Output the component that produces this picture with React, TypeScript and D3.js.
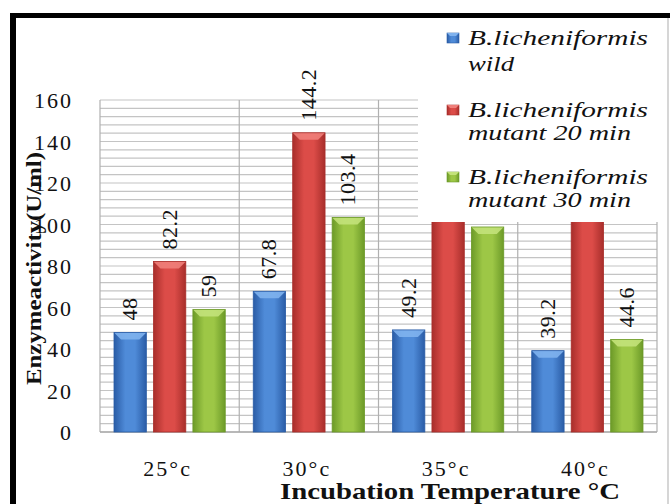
import React, { useEffect, useRef } from "react";
import * as d3 from "d3";

const categories = ["25°c", "30°c", "35°c", "40°c"];
const seriesNames = ["wild", "mutant 20 min", "mutant 30 min"];
const wildValues = [48, 67.8, 49.2, 39.2];
const mutant20Values = [82.2, 144.2, 120, 125];
const mutant30Values = [59, 103.4, 98.8, 44.6];
const yTicks = [0, 20, 40, 60, 80, 100, 120, 140, 160];
const hiddenLabels = [[false, false, false, false], [false, false, true, true], [false, false, true, false]];

const colors = [
  { mid: "#4f8bd8", edge: "#2a5ca6", top: "#7fb2ee" },
  { mid: "#dc4c48", edge: "#a82e2b", top: "#ef7f7a" },
  { mid: "#9dc746", edge: "#6c9a28", top: "#c3e27a" },
];

export default function App() {
  const ref = useRef<SVGSVGElement>(null);
  useEffect(() => {
    const svg = d3.select(ref.current);
    svg.selectAll("*").remove();
    const W = 670, H = 504;
    const left = 100, right = 657, top = 100, bottom = 432;
    const serif = "Times New Roman";

    const y = d3.scaleLinear().domain([0, 160]).range([bottom, top]);
    const x0 = d3.scaleBand<string>().domain(categories).range([left, right]).padding(0);
    const x1 = d3.scaleBand<number>().domain([0, 1, 2]).range([14, x0.bandwidth() - 14]).paddingInner(0.18);

    const defs = svg.append("defs");
    colors.forEach((c, i) => {
      const g = defs.append("linearGradient").attr("id", "g" + i).attr("x1", "0").attr("x2", "1").attr("y1", "0").attr("y2", "0");
      g.append("stop").attr("offset", "0").attr("stop-color", c.edge);
      g.append("stop").attr("offset", "0.35").attr("stop-color", c.mid);
      g.append("stop").attr("offset", "0.65").attr("stop-color", c.mid);
      g.append("stop").attr("offset", "1").attr("stop-color", c.edge);
    });

    svg.append("rect").attr("width", W).attr("height", H).attr("fill", "#fff");

    const grid = svg.append("g");
    d3.range(0, 161, 4).forEach((v) => {
      grid.append("line").attr("x1", left).attr("x2", right).attr("y1", y(v)).attr("y2", y(v))
        .attr("stroke", "#c4c4c4").attr("stroke-width", 1.2);
    });
    [left, ...categories.map((c) => (x0(c) as number) + x0.bandwidth())].forEach((xv) => {
      grid.append("line").attr("x1", xv).attr("x2", xv).attr("y1", top).attr("y2", bottom)
        .attr("stroke", "#b0b0b0").attr("stroke-width", 1.2);
    });
    grid.append("line").attr("x1", left).attr("x2", right).attr("y1", bottom).attr("y2", bottom)
      .attr("stroke", "#aaa").attr("stroke-width", 1.5);

    const all = [wildValues, mutant20Values, mutant30Values];
    const bars = svg.append("g");
    all.forEach((vals, si) => {
      vals.forEach((v, ci) => {
        const bx = (x0(categories[ci]) as number) + (x1(si) as number);
        const bw = x1.bandwidth();
        const by = y(v);
        bars.append("rect").attr("x", bx).attr("y", by).attr("width", bw).attr("height", bottom - by)
          .attr("fill", `url(#g${si})`);
        const b = 7;
        bars.append("polygon")
          .attr("points", [[bx, by], [bx + bw, by], [bx + bw - b, by + b], [bx + b, by + b]].map((p) => p.join(",")).join(" "))
          .attr("fill", colors[si].top).attr("opacity", 0.9);
        bars.append("rect").attr("x", bx).attr("y", by).attr("width", bw).attr("height", bottom - by)
          .attr("fill", "none").attr("stroke", colors[si].edge).attr("stroke-width", 0.8);
        if (!hiddenLabels[si][ci]) {
          const lx = bx + bw / 2;
          const ly = by - 12;
          bars.append("text").attr("transform", `translate(${lx + 7},${ly}) rotate(-90)`)
            .attr("font-family", serif).attr("font-size", 22).attr("letter-spacing", 0.5).attr("fill", "#111")
            .text(String(v));
        }
      });
    });

    svg.append("rect").attr("x", 418).attr("y", 18).attr("width", 248).attr("height", 204).attr("fill", "#fff");
    const legendLines = [
      ["B.licheniformis", "wild"],
      ["B.licheniformis", "mutant 20 min"],
      ["B.licheniformis", "mutant 30 min"],
    ];
    const legBase = [45, 117, 184];
    seriesNames.forEach((_, i) => {
      const by = legBase[i];
      svg.append("rect").attr("x", 447).attr("y", by - 12).attr("width", 12).attr("height", 10)
        .attr("fill", `url(#g${i})`).attr("stroke", colors[i].edge).attr("stroke-width", 0.6);
      svg.append("polygon")
        .attr("points", `447,${by - 12} 459,${by - 12} 456,${by - 9} 450,${by - 9}`)
        .attr("fill", colors[i].top);
      svg.append("text").attr("x", 468).attr("y", by).attr("font-family", serif).attr("font-style", "italic")
        .attr("font-size", 22).attr("fill", "#111").attr("textLength", 180).attr("lengthAdjust", "spacingAndGlyphs")
        .text(legendLines[i][0]);
      svg.append("text").attr("x", 468).attr("y", by + (i === 0 ? 26 : 23)).attr("font-family", serif).attr("font-style", "italic")
        .attr("font-size", 22).attr("fill", "#111").attr("textLength", i === 0 ? 46 : 163).attr("lengthAdjust", "spacingAndGlyphs")
        .text(legendLines[i][1]);
    });

    yTicks.forEach((t) => {
      svg.append("text").attr("x", 73).attr("y", y(t) + 8).attr("text-anchor", "end")
        .attr("font-family", serif).attr("font-size", 22).attr("letter-spacing", 2).attr("fill", "#111")
        .text(String(t));
    });

    categories.forEach((c) => {
      svg.append("text").attr("x", (x0(c) as number) + x0.bandwidth() / 2 - 2).attr("y", 476)
        .attr("text-anchor", "middle").attr("font-family", serif).attr("font-size", 22).attr("letter-spacing", 2)
        .attr("fill", "#111").text(c);
    });

    svg.append("text").attr("transform", "translate(41,385) rotate(-90)")
      .attr("font-family", serif).attr("font-weight", "bold").attr("font-size", 22).attr("fill", "#111")
      .attr("textLength", 233).attr("lengthAdjust", "spacingAndGlyphs")
      .text("Enzymeactivity(U/ml)");
    svg.append("text").attr("x", 280).attr("y", 499)
      .attr("font-family", serif).attr("font-weight", "bold").attr("font-size", 23).attr("fill", "#111")
      .attr("textLength", 340).attr("lengthAdjust", "spacingAndGlyphs")
      .text("Incubation Temperature °C");

    svg.append("rect").attr("x", 10).attr("y", 13).attr("width", 660).attr("height", 5).attr("fill", "#000");
    svg.append("rect").attr("x", 10).attr("y", 13).attr("width", 6).attr("height", H - 13).attr("fill", "#000");
    svg.append("line").attr("x1", 668).attr("x2", 668).attr("y1", 18).attr("y2", H).attr("stroke", "#bbb").attr("stroke-width", 1.2);
  }, []);
  return <svg ref={ref} width={670} height={504} style={{ position: "absolute", left: 0, top: 0 }} />;
}
